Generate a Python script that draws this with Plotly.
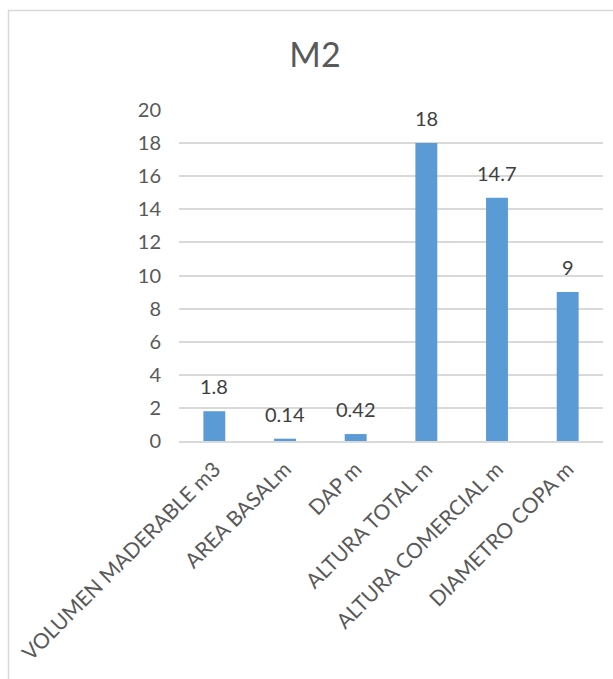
import plotly.graph_objects as go

# Measurements for sample M2
categories = ["VOLUMEN MADERABLE m3", "AREA BASALm", "DAP m",
              "ALTURA TOTAL m", "ALTURA COMERCIAL m", "DIAMETRO COPA m"]
values = [1.8, 0.14, 0.42, 18, 14.7, 9]
value_labels = ["1.8", "0.14", "0.42", "18", "14.7", "9"]
y_ticks = [0, 2, 4, 6, 8, 10, 12, 14, 16, 18, 20]

W, H = 613, 679
ml, mr, mt, mb = 179, 10, 110, 238
pw = W - ml - mr
ph = H - mt - mb

font_family = "Lato"
text_color = "#595959"

fig = go.Figure(
    go.Bar(
        x=categories,
        y=values,
        marker=dict(color="#5B9BD5", line=dict(width=0)),
        width=0.31,
    )
)

# Value labels above each bar
for cat, val, lab in zip(categories, values, value_labels):
    fig.add_annotation(x=cat, y=val, text=lab, showarrow=False,
                       yanchor="middle", yshift=25,
                       font=dict(family=font_family, size=20, color="#404040"))

# Chart frame (light grey border around the whole chart)
def px_x(p):
    return (p - ml) / pw

def px_y(p):
    return (H - mb - p) / ph

fig.add_shape(type="rect", xref="paper", yref="paper",
              x0=px_x(8.5), x1=px_x(640), y0=px_y(10.5), y1=px_y(720),
              line=dict(color="#D9D9D9", width=1.5), fillcolor="rgba(0,0,0,0)",
              layer="below")

fig.update_layout(
    width=W, height=H,
    margin=dict(l=ml, r=mr, t=mt, b=mb),
    paper_bgcolor="white",
    plot_bgcolor="white",
    showlegend=False,
    title=dict(text="M2", x=315 / W, xref="container", xanchor="center",
               y=1 - 55 / H, yref="container", yanchor="middle",
               font=dict(family=font_family, size=34, color=text_color)),
    xaxis=dict(
        tickangle=-45,
        tickfont=dict(family=font_family, size=21, color=text_color),
        showline=True, linecolor="#D9D9D9", linewidth=1.5,
        ticks="", showgrid=False,
        ticklabelstandoff=6,
    ),
    yaxis=dict(
        range=[0, 20],
        tickvals=y_ticks,
        tickfont=dict(family=font_family, size=20, color=text_color),
        showgrid=True, gridcolor="#D9D9D9", gridwidth=1.5,
        zeroline=False, showline=False, ticks="",
        ticklabelstandoff=17,
    ),
)

fig.write_html("out.html")
